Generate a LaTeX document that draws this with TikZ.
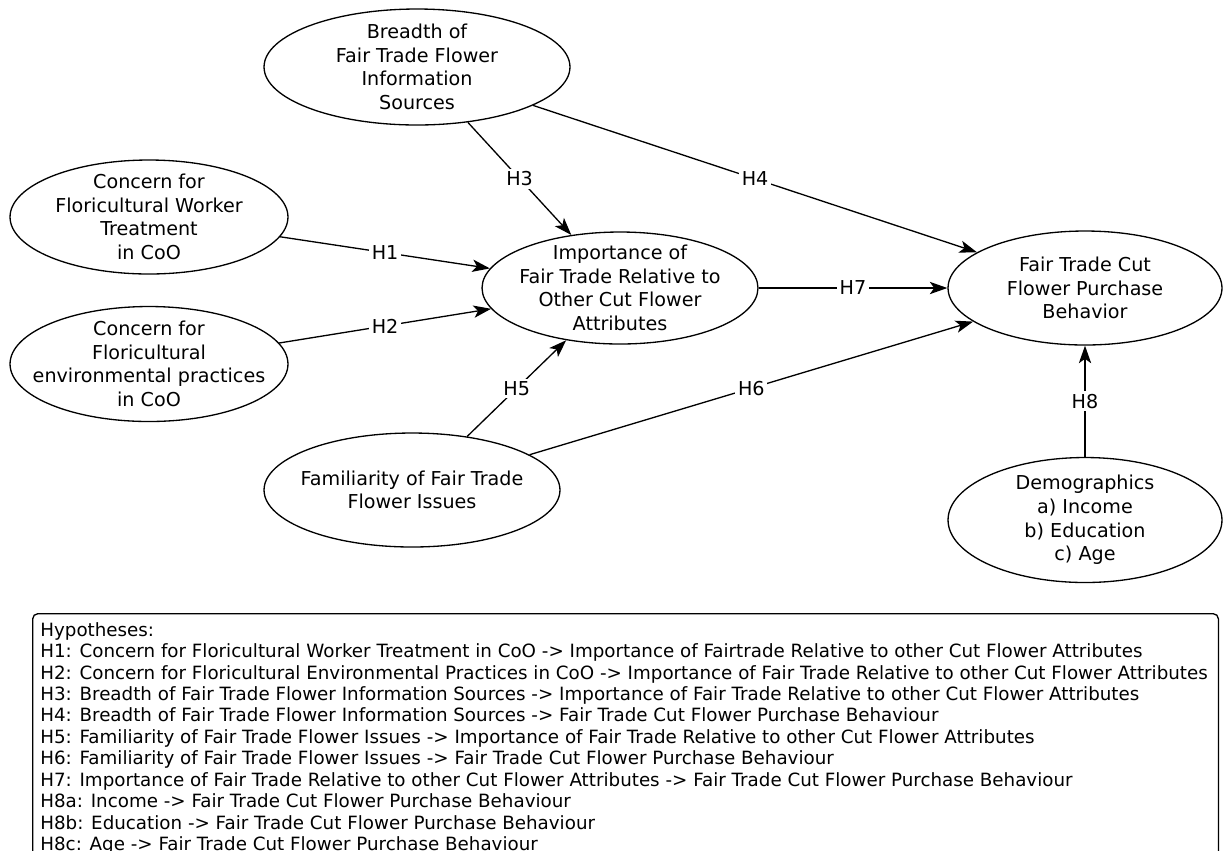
\documentclass[tikz,border=0pt]{standalone}
\usepackage{fontspec}
\setmainfont{DejaVu Sans}
\usetikzlibrary{arrows.meta, shapes.geometric}

\begin{document}
\begin{tikzpicture}[
  x=0.02cm, y=-0.02cm,
  var/.style={ellipse, draw, line width=0.75pt, inner xsep=-15pt, inner ysep=-10pt, align=center, font=\fontsize{10.9}{13.4}\selectfont},
  hyp/.style={fill=white, inner sep=1.5pt, font=\fontsize{10.9}{13.4}\selectfont},
  link/.style={-{Stealth[length=10pt, width=7pt, inset=2.5pt]}, line width=0.75pt},
  legend/.style={draw, rounded corners=3pt, line width=0.75pt, anchor=north west},
  >=Stealth
]
  \useasboundingbox (0,0) rectangle (1223,850);

  \node[var, minimum width=6.12cm, minimum height=2.32cm] (B) at (417,67) {Breadth of\\Fair Trade Flower\\Information\\Sources};
  \node[var, minimum width=5.56cm, minimum height=2.28cm] (W) at (149,217) {Concern for\\Floricultural Worker\\Treatment\\in CoO};
  \node[var, minimum width=5.56cm, minimum height=2.3cm] (E) at (149,364) {Concern for\\Floricultural\\environmental practices\\in CoO};
  \node[var, minimum width=5.52cm, minimum height=2.24cm] (I) at (620,288) {Importance of\\Fair Trade Relative to\\Other Cut Flower\\Attributes};
  \node[var, minimum width=5.48cm, minimum height=2.28cm] (P) at (1085,288) {Fair Trade Cut\\Flower Purchase\\Behavior};
  \node[var, minimum width=5.92cm, minimum height=2.28cm] (F) at (412,490) {Familiarity of Fair Trade\\Flower Issues};
  \node[var, minimum width=5.48cm, minimum height=2.5cm] (D) at (1085,520) {Demographics\\a) Income\\b) Education\\c) Age};

  \draw[link] (W) -- node[hyp]{H1} (I);
  \draw[link] (E) -- node[hyp]{H2} (I);
  \draw[link] (B) -- node[hyp]{H3} (I);
  \draw[link] (B) -- node[hyp]{H4} (P);
  \draw[link] (F) -- node[hyp]{H5} (I);
  \draw[link] (F) -- node[hyp]{H6} (P);
  \draw[link] (I) -- node[hyp]{H7} (P);
  \draw[link] (D) -- node[hyp]{H8} (P);

  \node[legend, minimum width=23.72cm, minimum height=5.4cm] (L) at (32,613) {};
  \node[anchor=north west, align=left, inner sep=0pt, font=\fontsize{10.4}{12.2}\selectfont] (T) at (40,622) {Hypotheses:\\
H1: Concern for Floricultural Worker Treatment in CoO -> Importance of Fairtrade Relative to other Cut Flower Attributes\\
H2: Concern for Floricultural Environmental Practices in CoO -> Importance of Fair Trade Relative to other Cut Flower Attributes\\
H3: Breadth of Fair Trade Flower Information Sources -> Importance of Fair Trade Relative to other Cut Flower Attributes\\
H4: Breadth of Fair Trade Flower Information Sources -> Fair Trade Cut Flower Purchase Behaviour\\
H5: Familiarity of Fair Trade Flower Issues -> Importance of Fair Trade Relative to other Cut Flower Attributes\\
H6: Familiarity of Fair Trade Flower Issues -> Fair Trade Cut Flower Purchase Behaviour\\
H7: Importance of Fair Trade Relative to other Cut Flower Attributes -> Fair Trade Cut Flower Purchase Behaviour\\
H8a: Income -> Fair Trade Cut Flower Purchase Behaviour\\
H8b: Education -> Fair Trade Cut Flower Purchase Behaviour\\
H8c: Age -> Fair Trade Cut Flower Purchase Behaviour};
\end{tikzpicture}
\end{document}
